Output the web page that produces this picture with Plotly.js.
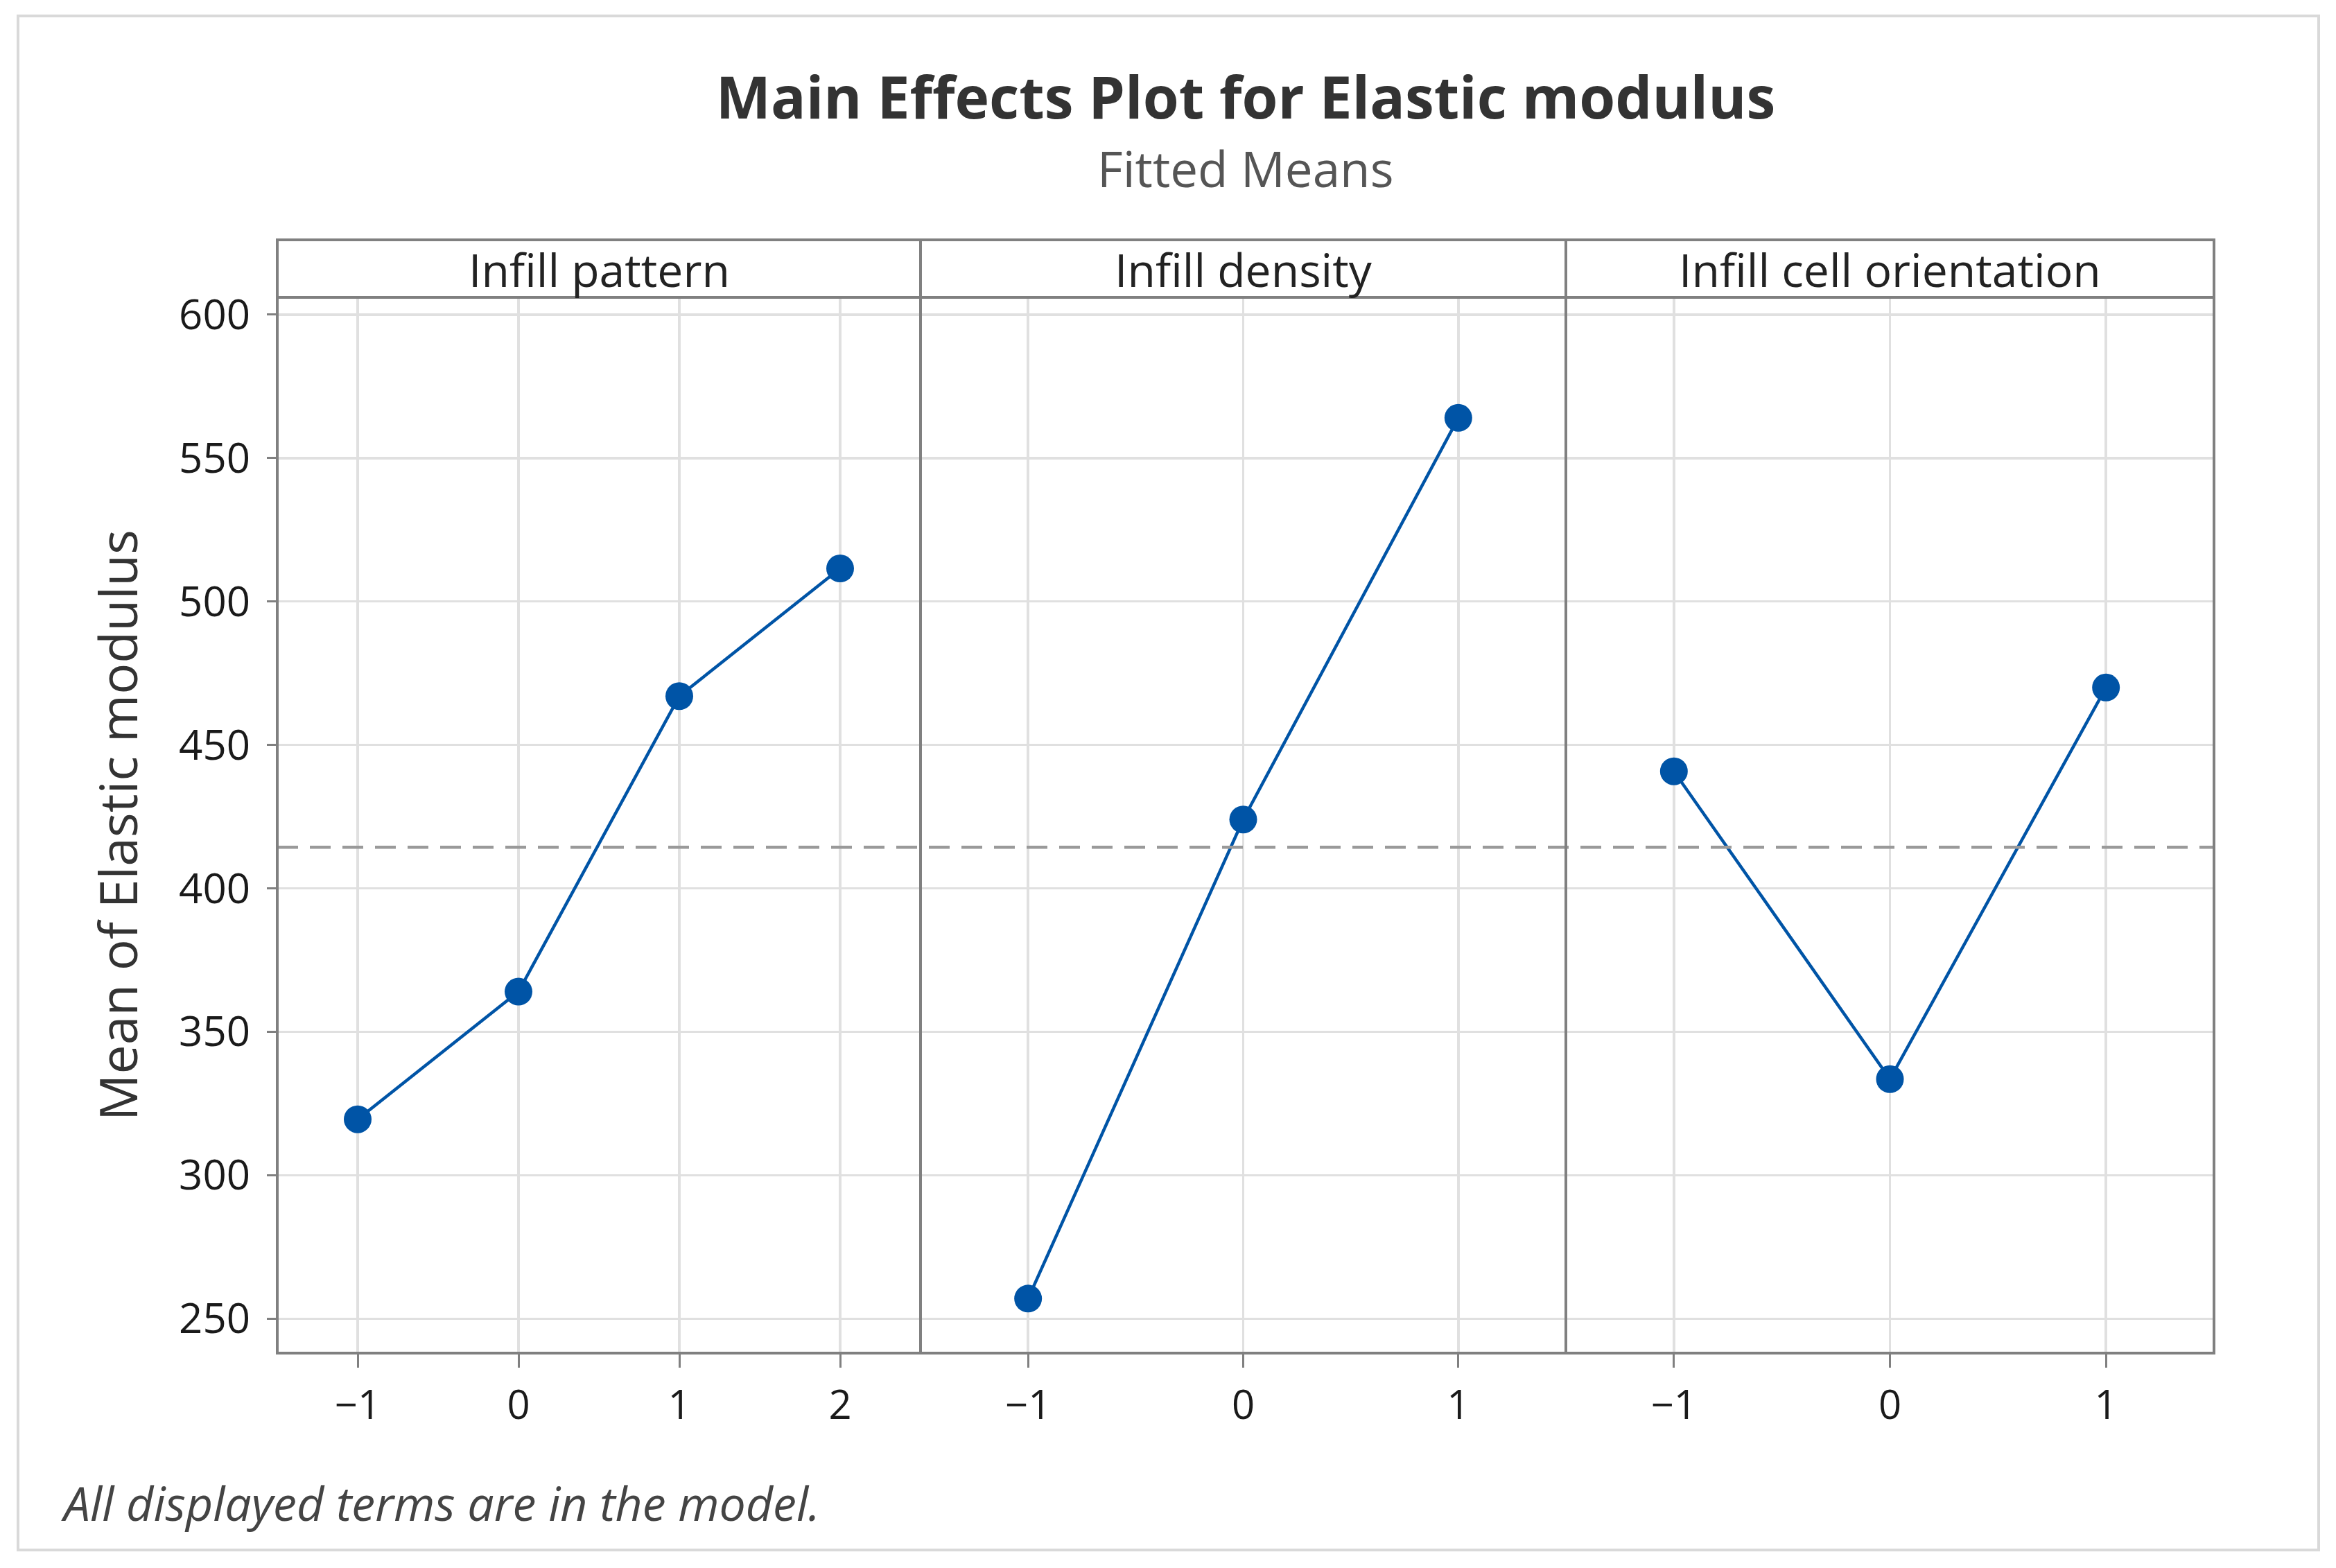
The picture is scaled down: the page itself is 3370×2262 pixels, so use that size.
<!DOCTYPE html>
<html>
<head>
<meta charset="utf-8">
<script src="https://cdn.plot.ly/plotly-3.0.1.min.js"></script>
<style>
  html, body { margin: 0; padding: 0; background: #ffffff; }
  #chart { width: 3370px; height: 2262px; }
</style>
</head>
<body>
<div id="chart"></div>
<script>
// ---- data ----
const panelTitles = ["Infill pattern", "Infill density", "Infill cell orientation"];
const patternLevels = [-1, 0, 1, 2];
const patternMeans = [319.5, 364, 467, 511.5];
const densityLevels = [-1, 0, 1];
const densityMeans = [257, 424, 564];
const orientationLevels = [-1, 0, 1];
const orientationMeans = [440.8, 333.5, 470];
const overallMean = 414.3;
const yTickVals = [250, 300, 350, 400, 450, 500, 550, 600];
const patternTickText = ["\u22121", "0", "1", "2"];
const levelTickText = ["\u22121", "0", "1"];

// ---- style ----
const BLUE = "#0054A6";
const BORDER = "#808080";
const GRID = "#e0e0e0";
const FONT = "Open Sans, Noto Sans, sans-serif";

const W = 3370, H = 2262;
const M = { l: 400, r: 176, t: 346, b: 310 };
const plotW = W - M.l - M.r;   // 2794
const plotH = H - M.t - M.b;   // 1606
const px2x = p => (p - M.l) / plotW;
const px2y = p => (H - M.b - p) / plotH;

const yTop = px2y(429);
const d1 = [0, px2x(1328)];
const d2 = [px2x(1328), px2x(2259)];
const d3 = [px2x(2259), 1];

function trace(x, y, xa, ya) {
  return {
    type: "scatter", mode: "lines+markers",
    x: x, y: y, xaxis: xa, yaxis: ya,
    line: { color: BLUE, width: 4.5 },
    marker: { color: BLUE, size: 40, line: { width: 0 } },
    hoverinfo: "x+y", showlegend: false
  };
}

const data = [
  trace(patternLevels, patternMeans, "x", "y"),
  trace(densityLevels, densityMeans, "x2", "y2"),
  trace(orientationLevels, orientationMeans, "x3", "y3")
];

function xAxis(domain, range, vals, text, anchor) {
  return {
    domain: domain, range: range, anchor: anchor,
    tickmode: "array", tickvals: vals, ticktext: text,
    showgrid: true, gridcolor: GRID, gridwidth: 3.5,
    zeroline: false, showline: false,
    ticks: "outside", ticklen: 20, tickwidth: 3, tickcolor: BORDER,
    ticklabelstandoff: 4,
    tickfont: { family: FONT, size: 58, color: "#1a1a1a" },
    fixedrange: true
  };
}
function yAxis(anchor, show) {
  const a = {
    domain: [0, yTop], range: [238, 606], anchor: anchor,
    tickmode: "array", tickvals: yTickVals,
    showgrid: true, gridcolor: GRID, gridwidth: 3.5,
    zeroline: false, showline: false,
    showticklabels: show,
    ticks: show ? "outside" : "", ticklen: 14, tickwidth: 3, tickcolor: BORDER,
    ticklabelstandoff: 12,
    tickfont: { family: FONT, size: 60, color: "#1a1a1a" },
    fixedrange: true
  };
  if (show) {
    a.title = { text: "Mean of Elastic modulus", standoff: 34,
                font: { family: FONT, size: 75, color: "#333333" } };
    a.automargin = false;
  } else {
    a.matches = "y";
  }
  return a;
}

const shapes = [
  // overall mean reference line
  { type: "line", xref: "paper", yref: "y", x0: 0, x1: 1, y0: overallMean, y1: overallMean,
    line: { color: "#9a9a9a", width: 4.5, dash: "30px,17px" }, layer: "above" },
  // outer frame
  { type: "rect", xref: "paper", yref: "paper",
    x0: px2x(26), x1: px2x(3345), y0: px2y(2236), y1: px2y(23),
    line: { color: "#d9d9d9", width: 4 }, fillcolor: "rgba(0,0,0,0)", layer: "below" }
];
[d1, d2, d3].forEach(d => {
  // header strip
  shapes.push({
    type: "rect", xref: "paper", yref: "paper",
    x0: d[0], x1: d[1], y0: yTop, y1: 1,
    line: { color: BORDER, width: 4 }, fillcolor: "#ffffff"
  });
  // panel frame
  shapes.push({
    type: "rect", xref: "paper", yref: "paper",
    x0: d[0], x1: d[1], y0: 0, y1: yTop,
    line: { color: BORDER, width: 4 }, fillcolor: "rgba(0,0,0,0)", layer: "above"
  });
});

const annotations = [
  { text: "Fitted Means", xref: "paper", yref: "paper", x: 0.5, y: px2y(243),
    xanchor: "center", yanchor: "middle", showarrow: false,
    font: { family: FONT, size: 71, color: "#555555" } },
  { text: "All displayed terms are in the model.", xref: "paper", yref: "paper",
    x: px2x(86), y: px2y(2167), xanchor: "left", yanchor: "middle", showarrow: false,
    font: { family: FONT, size: 68, color: "#444444", style: "italic" } }
];
[d1, d2, d3].forEach((d, i) => annotations.push({
  text: panelTitles[i], xref: "paper", yref: "paper",
  x: (d[0] + d[1]) / 2, y: (yTop + 1) / 2, xanchor: "center", yanchor: "middle",
  showarrow: false, font: { family: FONT, size: 66, color: "#222222" }
}));

const layout = {
  width: W, height: H,
  margin: M,
  paper_bgcolor: "#ffffff", plot_bgcolor: "#ffffff",
  title: {
    text: "<b>Main Effects Plot for Elastic modulus</b>",
    xref: "paper", x: 0.5, xanchor: "center",
    yref: "container", y: 1 - 142 / H, yanchor: "middle",
    font: { family: FONT, size: 84, color: "#333333" }
  },
  xaxis: xAxis(d1, [-1.5, 2.5], patternLevels, patternTickText, "y"),
  xaxis2: xAxis(d2, [-1.5, 1.5], densityLevels, levelTickText, "y2"),
  xaxis3: xAxis(d3, [-1.5, 1.5], orientationLevels, levelTickText, "y3"),
  yaxis: yAxis("x", true),
  yaxis2: yAxis("x2", false),
  yaxis3: yAxis("x3", false),
  shapes: shapes,
  annotations: annotations,
  showlegend: false
};

Plotly.newPlot("chart", data, layout, { displayModeBar: false, staticPlot: true });
</script>
</body>
</html>
